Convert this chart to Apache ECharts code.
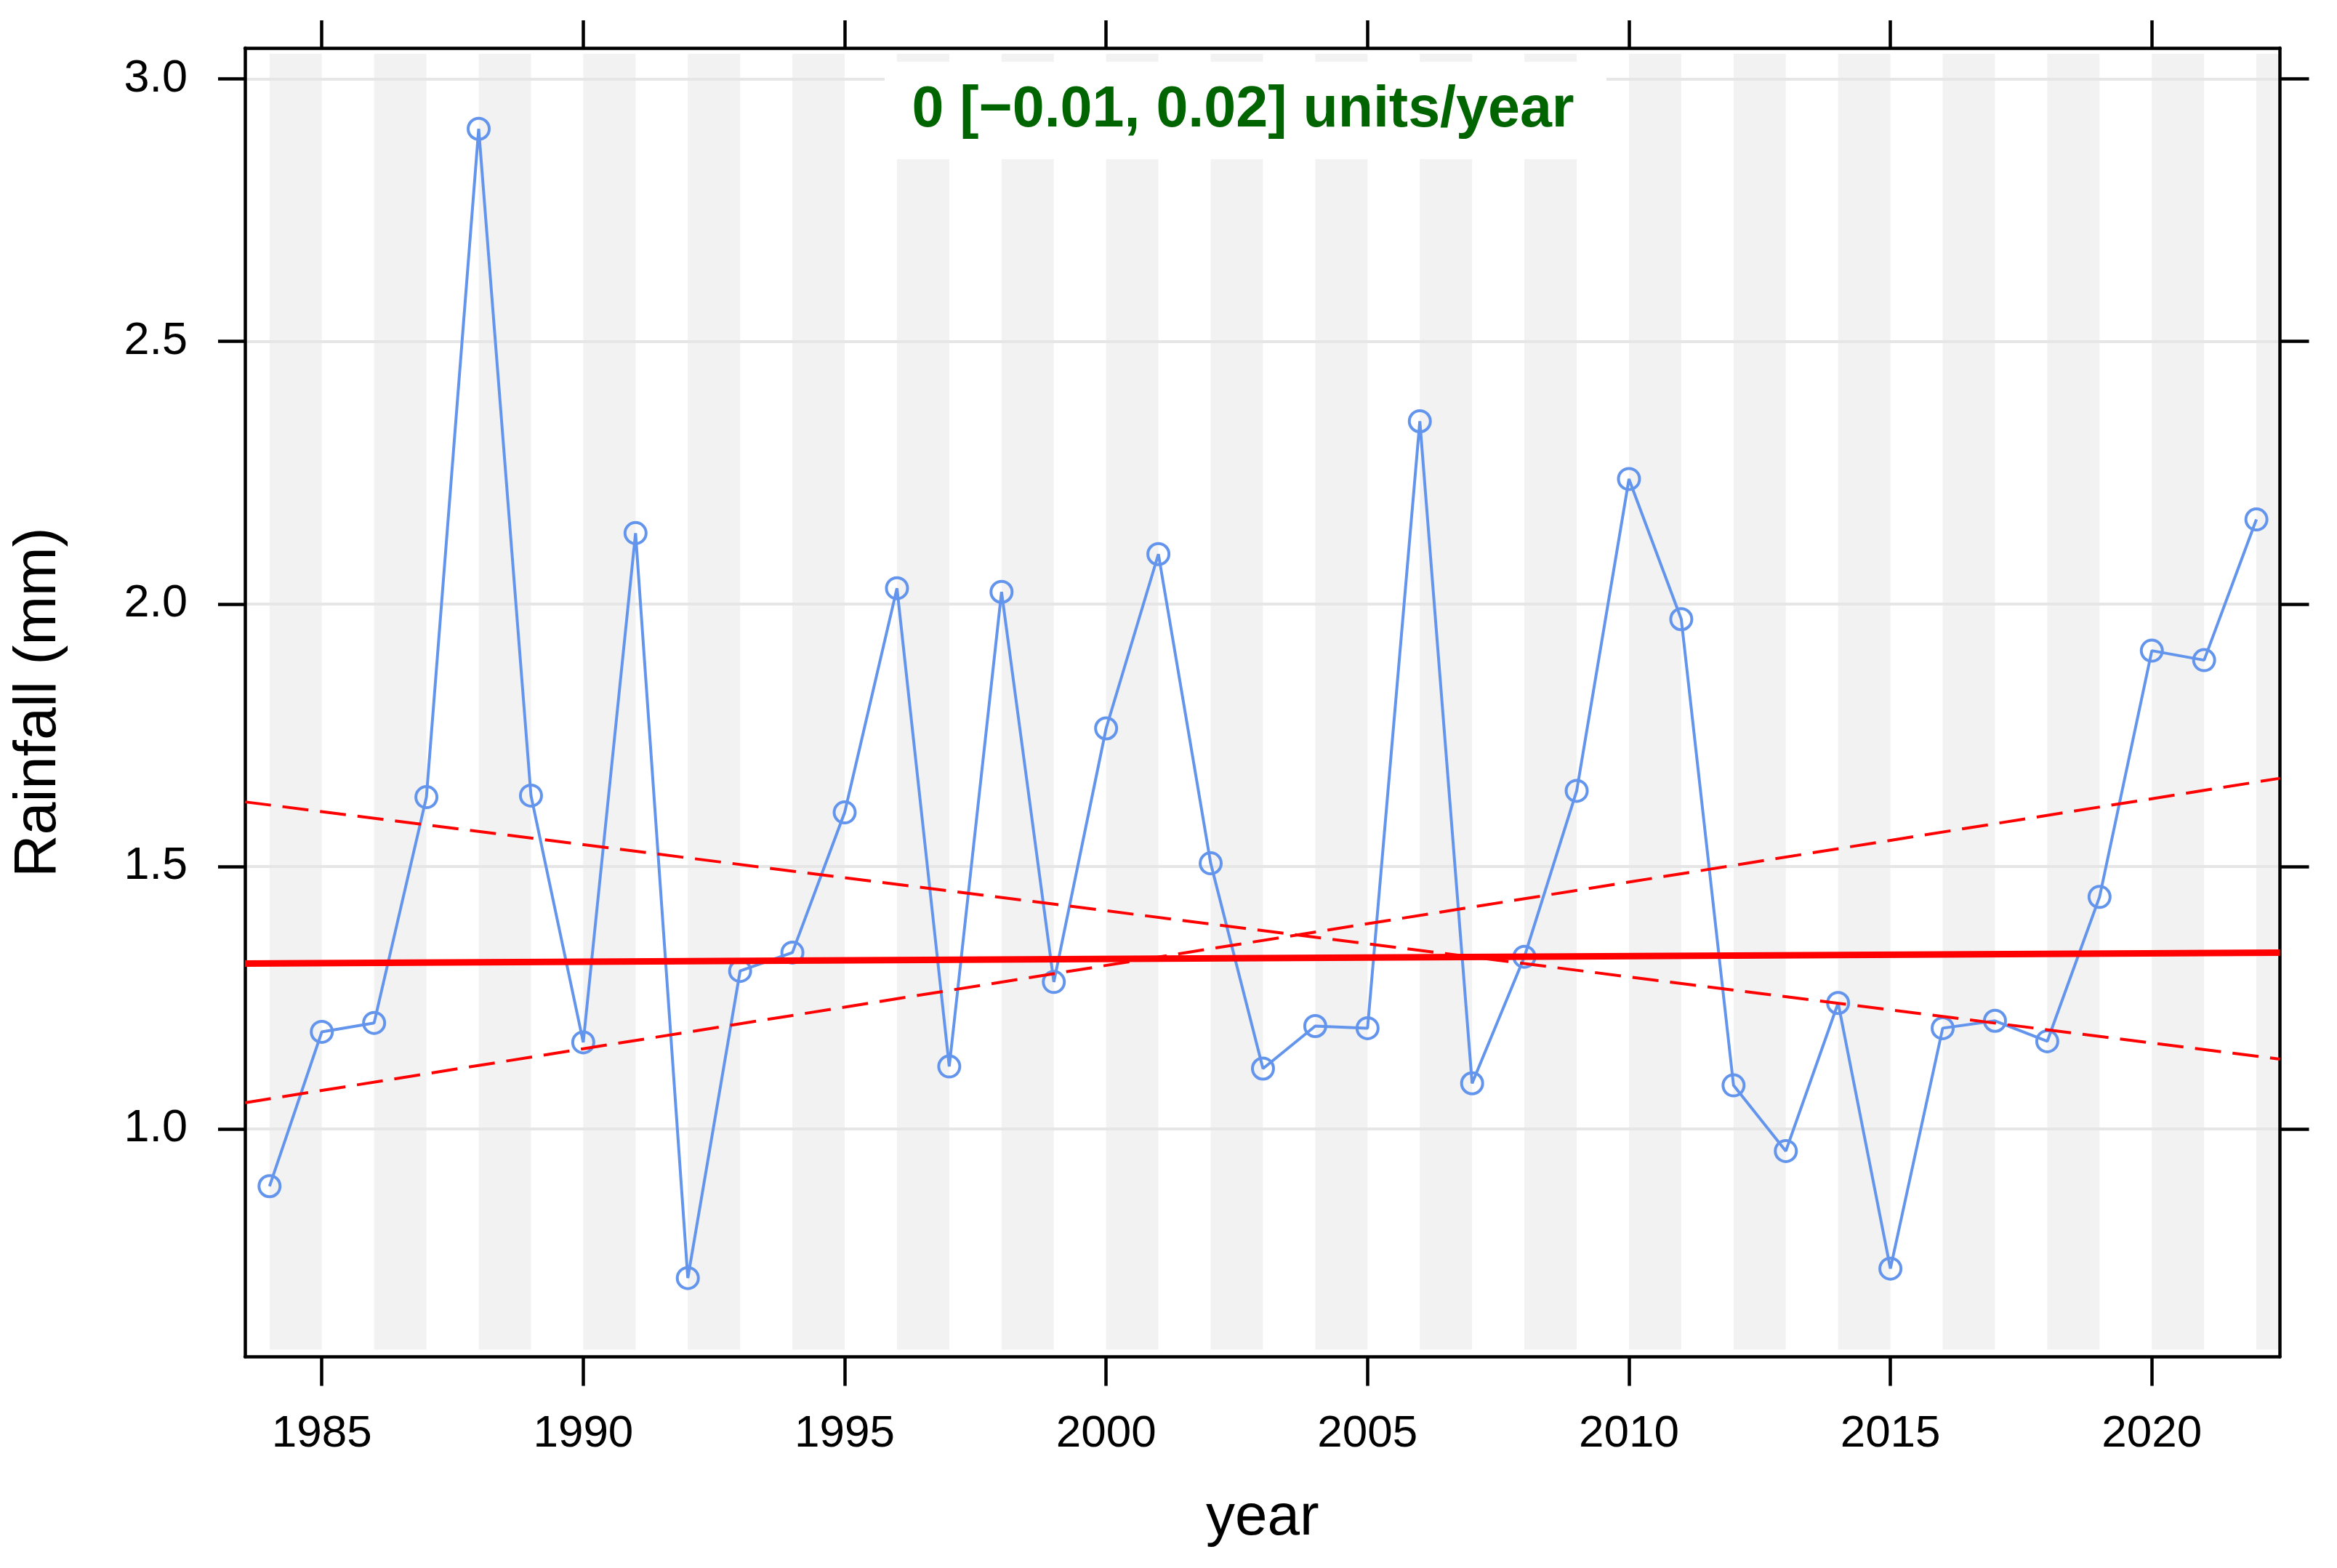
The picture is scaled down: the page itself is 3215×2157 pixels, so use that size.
<!DOCTYPE html>
<html>
<head>
<meta charset="utf-8">
<script src="https://cdn.jsdelivr.net/npm/echarts@6/dist/echarts.min.js"></script>
<style>
html,body{margin:0;padding:0;background:#ffffff;}
#chart{width:3215px;height:2157px;}
</style>
</head>
<body>
<div id="chart"></div>
<script>
// ---- data ----
const years = [1984,1985,1986,1987,1988,1989,1990,1991,1992,1993,1994,1995,1996,1997,1998,1999,2000,2001,2002,2003,2004,2005,2006,2007,2008,2009,2010,2011,2012,2013,2014,2015,2016,2017,2018,2019,2020,2021,2022];
const rainfall = [0.891,1.185,1.202,1.632,2.905,1.635,1.165,2.135,0.716,1.301,1.336,1.603,2.030,1.119,2.023,1.280,1.763,2.095,1.506,1.115,1.196,1.192,2.348,1.087,1.328,1.644,2.238,1.971,1.083,0.958,1.240,0.734,1.192,1.206,1.167,1.442,1.911,1.893,2.161];
const trendYears = [1983.53, 2022.45];
const trendMid = [1.315, 1.336];
const trendFalling = [1.623, 1.133];
const trendRising = [1.050, 1.668];
const bandStarts = [1984,1986,1988,1990,1992,1994,1996,1998,2000,2002,2004,2006,2008,2010,2012,2014,2016,2018,2020,2022];
const xTicks = [1985,1990,1995,2000,2005,2010,2015,2020];
const yTicks = [1.0,1.5,2.0,2.5,3.0];
const annotation = '0 [\u22120.01, 0.02] units/year';

const X_MIN = 1983.53, X_MAX = 2022.45;
const Y_MIN = 0.566, Y_MAX = 3.059;
const BAND_Y0 = 0.58, BAND_Y1 = 3.048;

const FONT = '"Liberation Sans", Arial, Helvetica, sans-serif';
const chart = echarts.init(document.getElementById('chart'), null, {renderer: 'canvas'});

const lineCommon = {color: '#000', width: 4.5};

const option = {
  backgroundColor: '#ffffff',
  animation: false,
  grid: {left: 337, right: 78.5, top: 66, bottom: 290.5, containLabel: false},
  xAxis: [
    {
      type: 'value', position: 'bottom', min: X_MIN, max: X_MAX,
      axisLine: {show: true, lineStyle: lineCommon},
      axisTick: {show: true, customValues: xTicks, length: 40, lineStyle: lineCommon},
      axisLabel: {show: true, customValues: xTicks, fontSize: 62, color: '#000', margin: 75, fontFamily: FONT,
                  formatter: v => String(Math.round(v))},
      splitLine: {show: false},
      name: 'year', nameLocation: 'middle', nameGap: 182,
      nameTextStyle: {fontSize: 80, color: '#000', fontFamily: FONT}
    },
    {
      type: 'value', position: 'top', min: X_MIN, max: X_MAX,
      axisLine: {show: true, lineStyle: lineCommon},
      axisTick: {show: true, customValues: xTicks, length: 38, lineStyle: lineCommon},
      axisLabel: {show: false},
      splitLine: {show: false}
    }
  ],
  yAxis: [
    {
      type: 'value', position: 'left', min: Y_MIN, max: Y_MAX,
      axisLine: {show: true, lineStyle: lineCommon},
      axisTick: {show: true, customValues: yTicks, length: 37, lineStyle: lineCommon},
      axisLabel: {show: true, customValues: yTicks, fontSize: 63, color: '#000', margin: 79, fontFamily: FONT,
                  formatter: v => v.toFixed(1)},
      splitLine: {show: true, lineStyle: {color: '#e6e6e6', width: 4}},
      name: 'Rainfall (mm)', nameLocation: 'middle', nameGap: 243, nameRotate: 90,
      nameTextStyle: {fontSize: 81, color: '#000', fontFamily: FONT}
    },
    {
      type: 'value', position: 'right', min: Y_MIN, max: Y_MAX,
      axisLine: {show: true, lineStyle: lineCommon},
      axisTick: {show: true, customValues: yTicks, length: 40, lineStyle: lineCommon},
      axisLabel: {show: false},
      splitLine: {show: false}
    }
  ],
  series: [
    {
      type: 'custom', name: 'bands', z: -1, silent: true,
      xAxisIndex: 0, yAxisIndex: 0,
      data: bandStarts.map(s => [s, Math.min(s + 1, X_MAX)]),
      renderItem: function (params, api) {
        const p0 = api.coord([api.value(0), BAND_Y1]);
        const p1 = api.coord([api.value(1), BAND_Y0]);
        const rect = echarts.graphic.clipRectByRect(
          {x: p0[0], y: p0[1], width: p1[0] - p0[0], height: p1[1] - p0[1]},
          {x: params.coordSys.x, y: params.coordSys.y, width: params.coordSys.width, height: params.coordSys.height}
        );
        return rect && {type: 'rect', shape: rect, style: {fill: '#f2f2f2'}};
      }
    },
    {
      type: 'line', name: 'Rainfall', xAxisIndex: 0, yAxisIndex: 0,
      data: years.map((y, i) => [y, rainfall[i]]),
      symbol: 'circle', symbolSize: 29, showSymbol: true,
      itemStyle: {color: 'rgba(255,255,255,0)', borderColor: '#6495ed', borderWidth: 4},
      lineStyle: {color: '#6495ed', width: 4},
      z: 3
    },
    {
      type: 'line', name: 'trend', xAxisIndex: 0, yAxisIndex: 0,
      data: trendYears.map((x, i) => [x, trendMid[i]]),
      showSymbol: false, symbol: 'none',
      lineStyle: {color: '#ff0000', width: 9}, z: 4
    },
    {
      type: 'line', name: 'ci1', xAxisIndex: 0, yAxisIndex: 0,
      data: trendYears.map((x, i) => [x, trendFalling[i]]),
      showSymbol: false, symbol: 'none',
      lineStyle: {color: '#ff0000', width: 4, type: [36, 16]}, z: 4
    },
    {
      type: 'line', name: 'ci2', xAxisIndex: 0, yAxisIndex: 0,
      data: trendYears.map((x, i) => [x, trendRising[i]]),
      showSymbol: false, symbol: 'none',
      lineStyle: {color: '#ff0000', width: 4, type: [36, 16]}, z: 4
    }
  ],
  graphic: [
    {type: 'rect', z: 100, shape: {x: 1217, y: 85, width: 993, height: 134}, style: {fill: '#ffffff'}, silent: true},
    {type: 'text', z: 101, x: 1710, y: 152, silent: true,
     style: {text: annotation, fill: '#006400', font: 'bold 79px ' + FONT,
             align: 'center', verticalAlign: 'middle', textAlign: 'center', textVerticalAlign: 'middle'}}
  ]
};
chart.setOption(option);
</script>
</body>
</html>
